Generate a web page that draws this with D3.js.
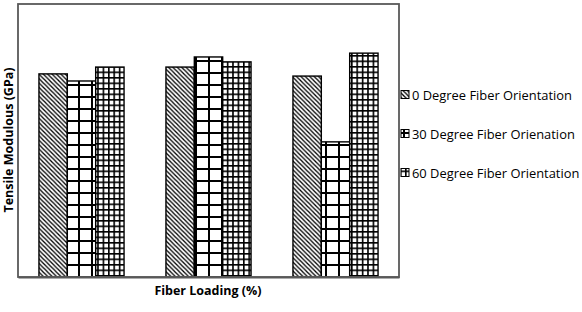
<!DOCTYPE html>
<html><head><meta charset="utf-8">
<script src="https://cdn.jsdelivr.net/npm/d3@7/dist/d3.min.js"></script>
<style>body{margin:0;background:#fff}svg{display:block}</style>
</head><body>
<svg id="c" width="582" height="312"></svg>
<script>
// Data (values estimated; no y ticks on the original)
const categories = ["Loading 1", "Loading 2", "Loading 3"];
const seriesNames = ["0 Degree Fiber Orientation", "30 Degree Fiber Orienation", "60 Degree Fiber Orientation"];
const deg0 = [7.44, 7.69, 7.36];
const deg30 = [7.18, 8.06, 4.95];
const deg60 = [7.69, 7.88, 8.20];
const seriesValues = [deg0, deg30, deg60];
const yTitle = "Tensile Modulous (GPa)";
const xTitle = "Fiber Loading (%)";

const svg = d3.select("#c");
const m = {left: 18, top: 4, right: 399, bottom: 277};

// Patterns
const defs = svg.append("defs");
const hs = 4.4;
const p0 = defs.append("pattern").attr("id", "pat0").attr("patternUnits", "userSpaceOnUse")
  .attr("width", hs).attr("height", hs);
p0.append("rect").attr("width", hs).attr("height", hs).attr("fill", "#fff");
p0.append("path").attr("d", `M-1,-1 L${hs+1},${hs+1} M-1,${hs-1} L1,${hs+1} M${hs-1},-1 L${hs+1},1`)
  .attr("stroke", "#000").attr("stroke-width", 1.3);

function gridPattern(id, cw, ch, sw) {
  const p = defs.append("pattern").attr("id", id).attr("patternUnits", "userSpaceOnUse")
    .attr("width", cw).attr("height", ch);
  p.append("rect").attr("width", cw).attr("height", ch).attr("fill", "#fff");
  p.append("path").attr("d", `M0,${sw/2} H${cw} M${sw/2},0 V${ch}`).attr("stroke", "#000").attr("stroke-width", sw);
}
gridPattern("pat1", 13, 12, 2);
gridPattern("pat2", 5.4, 5.5, 1.6);

const x0 = d3.scaleBand().domain(categories).range([m.left, m.right]).paddingInner(0.33).paddingOuter(0.165);
const x1 = d3.scaleBand().domain(d3.range(3)).range([0, x0.bandwidth()]);
const y = d3.scaleLinear().domain([0, 10]).range([m.bottom, m.top]);

// bars
const g = svg.append("g");
categories.forEach((c, ci) => {
  seriesValues.forEach((vals, si) => {
    g.append("rect")
      .attr("x", x0(c) + x1(si))
      .attr("y", y(vals[ci]))
      .attr("width", x1.bandwidth())
      .attr("height", y(0) - y(vals[ci]))
      .attr("fill", `url(#pat${si})`)
      .attr("stroke", "#000")
      .attr("stroke-width", 1.4);
  });
});

// plot border
svg.append("rect").attr("x", m.left).attr("y", m.top)
  .attr("width", m.right - m.left).attr("height", m.bottom - m.top)
  .attr("fill", "none").attr("stroke", "#595959").attr("stroke-width", 1.8);

// x axis (no tick labels)
const xAxis = d3.axisBottom(x0).tickSize(0).tickFormat("");
svg.append("g").attr("transform", `translate(0,${m.bottom})`).call(xAxis)
  .call(s => s.select(".domain").attr("stroke", "#595959").attr("stroke-width", 1.8));

// titles
const font = "'Open Sans', 'Liberation Sans', sans-serif";
svg.append("text").attr("x", 208).attr("y", 295).attr("text-anchor", "middle")
  .attr("font-family", font).attr("font-weight", "bold").attr("font-size", 12.5)
  .attr("fill", "#000").text(xTitle);
svg.append("text").attr("transform", "translate(13,140) rotate(-90)").attr("text-anchor", "middle")
  .attr("font-family", font).attr("font-weight", "bold").attr("font-size", 12.5)
  .attr("fill", "#000").text(yTitle);

// legend
const legY = [95, 134, 173];
seriesNames.forEach((n, i) => {
  svg.append("rect").attr("x", 401).attr("y", legY[i] - 4.5).attr("width", 8).attr("height", 8)
    .attr("fill", `url(#pat${i})`).attr("stroke", "#000").attr("stroke-width", 1);
  svg.append("text").attr("x", 412).attr("y", legY[i] + 4.5)
    .attr("font-family", font).attr("font-size", 12.9).attr("fill", "#000").text(n);
});
</script>
</body></html>
